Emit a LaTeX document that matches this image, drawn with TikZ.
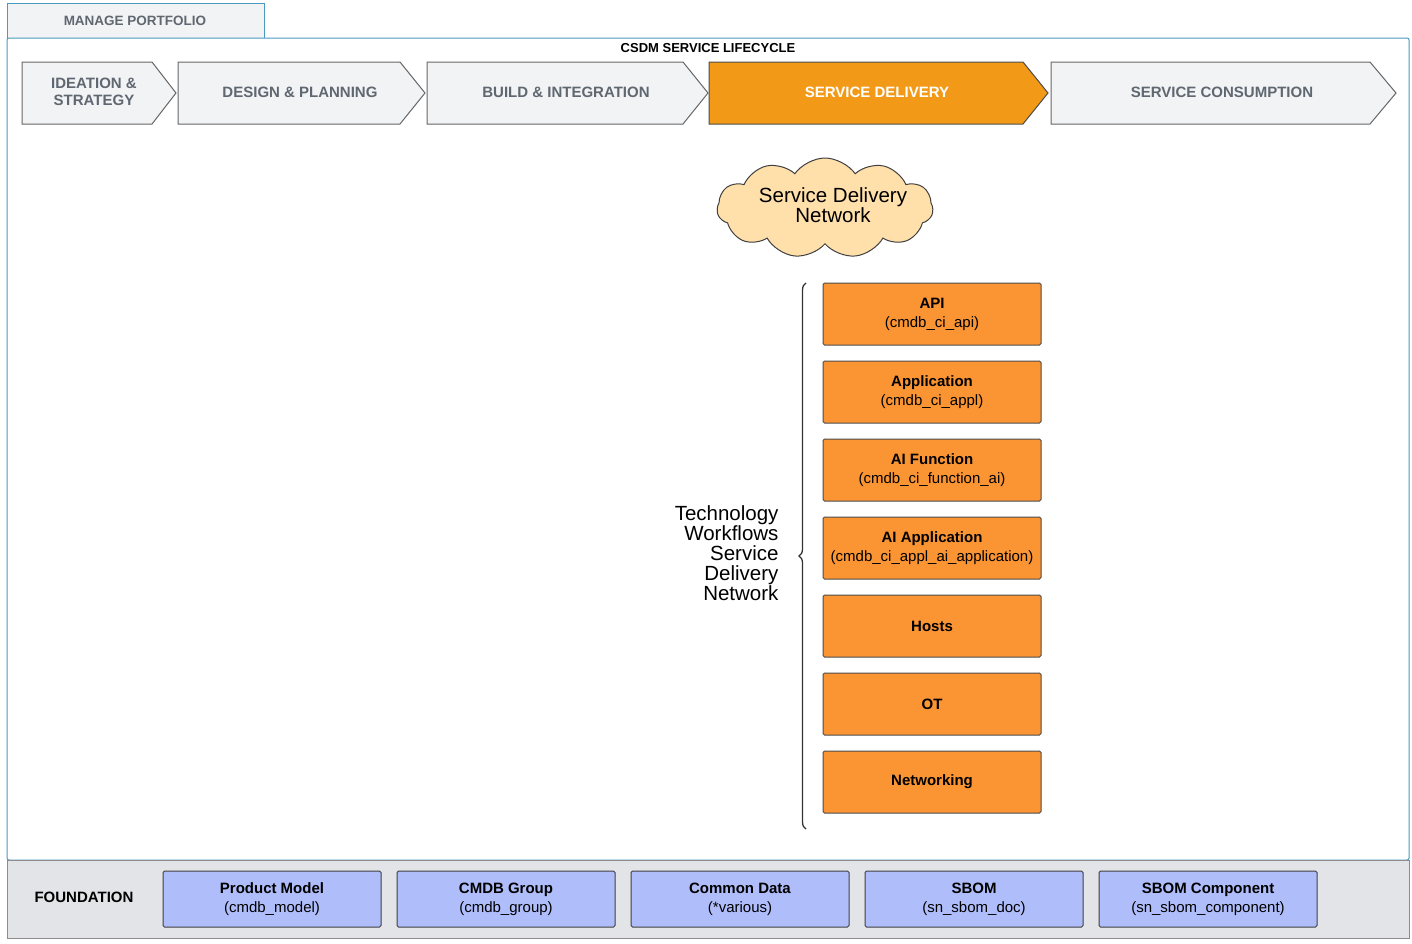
\documentclass[tikz,border=0pt]{standalone}
\usepackage{fontspec}
\setmainfont{Liberation Sans}
\usetikzlibrary{shapes.symbols,decorations.pathreplacing}
\definecolor{chev}{HTML}{F2F3F5}
\definecolor{chevtxt}{HTML}{5F6770}
\definecolor{frameblue}{HTML}{4A9AC0}
\definecolor{orangeA}{HTML}{F29A17}
\definecolor{orangeB}{HTML}{FB9433}
\definecolor{cloudfill}{HTML}{FFDFAA}
\definecolor{found}{HTML}{E2E4E8}
\definecolor{bluebox}{HTML}{AFBEFB}
\tikzset{
 chevtext/.style={font=\fontsize{15}{17}\selectfont\bfseries, text=chevtxt, align=center},
 obox/.style={draw=black!70, line width=1pt, fill=orangeB, rounded corners=1.5pt, minimum width=218pt, minimum height=62pt, align=center, font=\fontsize{15}{19}\selectfont},
 bbox/.style={draw=black!75, line width=1pt, fill=bluebox, rounded corners=1.5pt, minimum width=218pt, minimum height=56pt, align=center, font=\fontsize{15}{19}\selectfont},
}
\begin{document}
\begin{tikzpicture}[x=1pt,y=-1pt]
\useasboundingbox (0,0) rectangle (1412,943);
% tab
\draw[frameblue, line width=1pt, fill=chev] (7,38) -- (7,3) -- (264,3) -- (264,38);
\node[font=\fontsize{13.5}{15}\selectfont\bfseries, text=chevtxt] (tab) at (135,21) {MANAGE PORTFOLIO};
% frame
\draw[frameblue, line width=1pt, rounded corners=2pt] (7,38) rectangle (1409,860);
\node[font=\fontsize{13}{14}\selectfont\bfseries] (title) at (708,48) {CSDM SERVICE LIFECYCLE};
% chevrons
\foreach \a/\b/\c in {22/152/176, 178/400/425, 427/683/708, 1051/1370/1396}{
 \draw[black!60, line width=1pt, fill=chev] (\a,62) -- (\b,62) -- (\c,93) -- (\b,124) -- (\a,124) -- cycle;}
\draw[black!70, line width=1pt, fill=orangeA] (709,62) -- (1023,62) -- (1048,93) -- (1023,124) -- (709,124) -- cycle;
\node[chevtext] (c1) at (94,92) {IDEATION \&\\STRATEGY};
\node[chevtext] (c2) at (300,92) {DESIGN \& PLANNING};
\node[chevtext] (c3) at (566,92) {BUILD \& INTEGRATION};
\node[chevtext, text=white] (c4) at (877,92) {SERVICE DELIVERY};
\node[chevtext] (c5) at (1222,92) {SERVICE CONSUMPTION};
% cloud
\node[cloud, cloud puffs=11, cloud puff arc=110, aspect=2.2, draw=black!75, line width=1pt, fill=cloudfill, minimum width=216pt, minimum height=100pt, inner sep=0pt] (cloud) at (825,208) {};
\node[font=\fontsize{20.5}{20}\selectfont, align=center] (cloudtxt) at (833,205) {Service Delivery\\Network};
% boxes
\node[obox] (api) at (932,314) {\textbf{API}\\(cmdb\_ci\_api)};
\node[obox] (app) at (932,392) {\textbf{Application}\\(cmdb\_ci\_appl)};
\node[obox] (aif) at (932,470) {\textbf{AI Function}\\(cmdb\_ci\_function\_ai)};
\node[obox] (aia) at (932,548) {\textbf{AI Application}\\(cmdb\_ci\_appl\_ai\_application)};
\node[obox] (hosts) at (932,626) {\textbf{Hosts}};
\node[obox] (ot) at (932,704) {\textbf{OT}};
\node[obox] (net) at (932,782) {\textbf{Networking}};
% brace
\coordinate (bt) at (806,283);
\coordinate (bb) at (806,829);
\draw[black!80, line width=1.3pt, decorate, decoration={brace, amplitude=7pt}] (bb) -- (bt);
\node[font=\fontsize{20.5}{20}\selectfont, align=right, anchor=east] (tech) at (782,553) {Technology\\Workflows\\Service\\Delivery\\Network};
% foundation
\draw[black!45, line width=1pt, fill=found] (7,860) rectangle (1409,938);
\node[font=\fontsize{15}{16}\selectfont\bfseries] (fnd) at (84,897) {FOUNDATION};
\node[bbox] (f1) at (272,899) {\textbf{Product Model}\\(cmdb\_model)};
\node[bbox] (f2) at (506,899) {\textbf{CMDB Group}\\(cmdb\_group)};
\node[bbox] (f3) at (740,899) {\textbf{Common Data}\\(*various)};
\node[bbox] (f4) at (974,899) {\textbf{SBOM}\\(sn\_sbom\_doc)};
\node[bbox] (f5) at (1208,899) {\textbf{SBOM Component}\\(sn\_sbom\_component)};
\end{tikzpicture}
\end{document}
